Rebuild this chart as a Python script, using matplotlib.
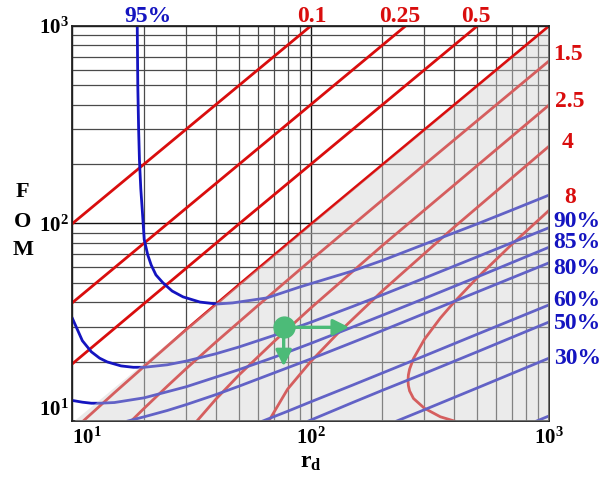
import matplotlib
matplotlib.use('Agg')
import matplotlib.pyplot as plt
from matplotlib.ticker import FixedLocator, NullFormatter

plt.rcParams['font.family'] = ['Liberation Serif', 'DejaVu Serif']
plt.rcParams['font.weight'] = 'bold'
plt.rcParams['mathtext.fontset'] = 'custom'
plt.rcParams['mathtext.rm'] = 'Liberation Serif:bold'
plt.rcParams['mathtext.it'] = 'Liberation Serif:bold'
plt.rcParams['mathtext.bf'] = 'Liberation Serif:bold'

# ---- red contours (rd/FOM family), label -> (rd, FOM) points
red_dark = {
    '0.1':  ([10, 100], [100, 1000]),
    '0.25': ([10, 250], [39.75, 1000]),
    '0.5':  ([10, 50, 500], [19.5, 99.5, 1000]),
    '1':    ([11.1, 15, 20, 30, 50, 100, 1000], [10, 13.9, 18.9, 29.0, 49.0, 99.0, 999]),
}
red_light = {
    '1.5': ([17.65, 20, 25, 30, 40, 60, 100, 300, 1000],
            [10, 11.6, 15.0, 18.4, 25.1, 38.4, 65.1, 198.5, 665]),
    '2.5': ([33.3, 40, 50, 70, 100, 200, 1000],
            [10, 12.9, 17.1, 25.2, 37.3, 77.4, 397.5]),
    '4':   ([66.7, 80, 100, 130, 200, 400, 1000],
            [10, 14.5, 20, 27.8, 45.6, 95.8, 246]),
    '8':   ([400, 350, 300, 270, 260, 257, 256, 257, 260, 270, 300, 350, 400, 500, 700, 1000],
            [10, 10.5, 11.6, 13.0, 14.2, 15.1, 16, 17.1, 18.3, 20.7, 25.9, 33.2, 40, 53.1, 78.6, 116.4]),
}

# ---- blue efficiency contours
rd_95 = [18.7, 18.8, 18.95, 19.1, 19.35, 19.65, 20.0, 20.7, 21.4, 22.4, 24.0, 26.2, 29.1,
         34.3, 40.4, 47.0, 65.5, 90.0, 150, 200, 300, 500, 700, 1000]
fom_95 = [1000, 500, 300, 210, 150, 115, 83, 69.3, 61.6, 54.9, 50.0, 45.5, 42.5,
          40.0, 39.1, 39.6, 42.0, 47.7, 57.5, 65, 78.5, 99.5, 117, 139.2]
rd_90 = [10, 11, 12, 13, 14, 16, 18, 20, 25, 30, 40, 50, 70, 100, 150, 200, 300, 500, 700, 1000]
fom_90 = [33, 25.5, 22.4, 20.8, 19.9, 19.0, 18.7, 18.7, 19.25, 20.1, 21.9, 23.7, 27.1,
          31.6, 38.0, 43.5, 52.9, 67.8, 80.0, 95.2]
rd_85 = [10, 11, 12, 13, 15, 20, 30, 50, 70, 100, 150, 200, 300, 500, 1000]
fom_85 = [12.7, 12.45, 12.3, 12.3, 12.4, 13.1, 14.9, 18.2, 21.0, 24.7, 29.9, 34.3, 41.7, 53.6, 75.8]
rd_80 = [17.1, 20, 25, 30, 40, 50, 70, 100, 150, 200, 300, 500, 1000]
fom_80 = [10, 10.5, 11.3, 12.1, 13.6, 15.0, 17.5, 20.6, 25.0, 28.7, 35.0, 45.0, 63.2]
rd_60 = [63, 80, 100, 150, 200, 300, 500, 1000]
fom_60 = [10, 11.2, 12.5, 15.2, 17.5, 21.35, 27.5, 38.7]
rd_50 = [98, 150, 200, 300, 500, 1000]
fom_50 = [10, 12.4, 14.3, 17.4, 22.4, 31.7]
rd_30 = [230, 300, 500, 700, 1000]
fom_30 = [10, 11.4, 14.7, 17.4, 20.8]
rd_10 = [889, 1000]
fom_10 = [10, 10.6]

blue_curves = [(rd_95, fom_95), (rd_90, fom_90), (rd_85, fom_85), (rd_80, fom_80),
               (rd_60, fom_60), (rd_50, fom_50), (rd_30, fom_30), (rd_10, fom_10)]

# shaded region (FOM below rd)
shade_rd = [10.2, 1000, 1000]
shade_fom = [10, 980, 10]

# operating point and arrows
pt_rd, pt_fom = 77, 29.8
arrow_right = (145, 29.8)
arrow_down = (77, 18.9)

RED = '#d90d0d'
BLUE = '#1414c0'
GREEN = '#4cbb78'

fig = plt.figure(figsize=(6.02, 4.82), dpi=100)
ax = fig.add_axes([0.1204, 0.1266, 0.7915, 0.8195])
ax.set_xscale('log')
ax.set_yscale('log')
ax.set_xlim(10, 1000)
ax.set_ylim(10, 1000)

for rd, f in red_dark.values():
    ax.plot(rd, f, color=RED, lw=2.0, zorder=2)
for rd, f in red_light.values():
    ax.plot(rd, f, color=RED, lw=2.0, zorder=2)
for rd, f in blue_curves:
    ax.plot(rd, f, color=BLUE, lw=2.0, zorder=2)

ax.fill(shade_rd, shade_fom, color='#d0d0d0', alpha=0.42, lw=0, zorder=3)

ax.annotate('', xy=arrow_right, xytext=(pt_rd, pt_fom), zorder=6,
            arrowprops=dict(arrowstyle='-|>', color=GREEN, lw=2.4, mutation_scale=24,
                            shrinkA=0, shrinkB=0))
ax.annotate('', xy=arrow_down, xytext=(pt_rd, pt_fom), zorder=6,
            arrowprops=dict(arrowstyle='-|>', color=GREEN, lw=2.4, mutation_scale=24,
                            shrinkA=0, shrinkB=0))
ax.plot([pt_rd], [pt_fom], 'o', color=GREEN, ms=15, zorder=7)

# grid
major = [10, 100, 1000]
minor = [m * d for d in (10, 100) for m in range(2, 10)]
ax.xaxis.set_major_locator(FixedLocator(major))
ax.yaxis.set_major_locator(FixedLocator(major))
ax.xaxis.set_minor_locator(FixedLocator(minor))
ax.yaxis.set_minor_locator(FixedLocator(minor))
ax.xaxis.set_minor_formatter(NullFormatter())
ax.yaxis.set_minor_formatter(NullFormatter())
ax.set_axisbelow(True)
ax.grid(which='major', color='#111111', lw=1.0)
ax.grid(which='minor', color='#4a4a4a', lw=0.9)
for s in ax.spines.values():
    s.set_color('#222222')
    s.set_linewidth(1.3)
ax.tick_params(which='both', length=0)
ax.tick_params(axis='x', pad=5)
ax.tick_params(axis='y', pad=3)

tick_txt = [r'$10^{1}$', r'$10^{2}$', r'$10^{3}$']
ax.set_xticklabels(tick_txt, fontsize=15)
ax.set_yticklabels(tick_txt, fontsize=15)
ax.get_xticklabels()[0].set_ha('left')
ax.get_yticklabels()[0].set_va('bottom')

# curve labels
top_labels = [('95%', 0.158, BLUE), ('0.1', 0.503, RED), ('0.25', 0.687, RED), ('0.5', 0.847, RED)]
for s, x, c in top_labels:
    ax.text(x, 1.025, s, color=c, fontsize=17, ha='center', va='center',
            transform=ax.transAxes, clip_on=False)

right_red = [('1.5', 1.008, 0.927, 'left'), ('2.5', 1.012, 0.810, 'left'),
             ('4', 1.040, 0.704, 'center'), ('8', 1.044, 0.565, 'center')]
for s, x, y, ha in right_red:
    ax.text(x, y, s, color=RED, fontsize=17, ha=ha, va='center',
            transform=ax.transAxes, clip_on=False)

right_blue = [('90%', 0.504), ('85%', 0.451), ('80%', 0.387),
              ('60%', 0.306), ('50%', 0.248), ('30%', 0.159)]
for s, y in right_blue:
    ax.text(1.010, y, s, color=BLUE, fontsize=17, ha='left', va='center',
            transform=ax.transAxes, clip_on=False)

# axis titles
for ch, y in zip('FOM', [0.602, 0.539, 0.481]):
    fig.text(0.038, y, ch, fontsize=16, ha='center', va='center')
fig.text(0.516, 0.040, r'$r_{d}$', fontsize=17, ha='center', va='center')

fig.savefig('out.png', dpi=100)
